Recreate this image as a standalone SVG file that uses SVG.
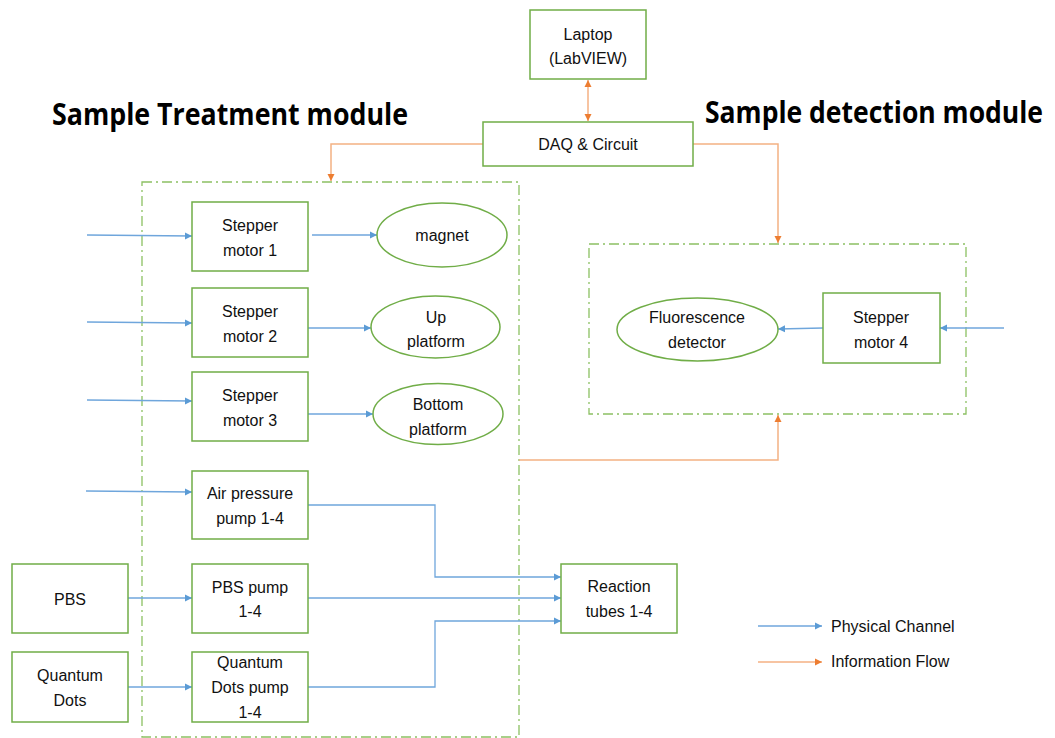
<svg xmlns="http://www.w3.org/2000/svg" width="1055" height="738" viewBox="0 0 1055 738">
<style>
text{font-family:"Liberation Sans",Arial,sans-serif;font-size:16px;fill:#111;text-anchor:middle}
.title{font-family:"Open Sans","Liberation Sans",sans-serif;font-weight:bold;font-size:30px;text-anchor:start;fill:#000}
.leg{text-anchor:start}
.box{fill:#fff;stroke:#70AD47;stroke-width:1.5}
.mod{fill:none;stroke:#8CC063;stroke-width:1.3;stroke-dasharray:10 4 2 4}
.phys{fill:none;stroke:#6FA6DC;stroke-width:1.3}
.info{fill:none;stroke:#F4B183;stroke-width:1.5}
</style>
<defs>
<marker id="ab" markerWidth="8" markerHeight="8" refX="7" refY="4" orient="auto" markerUnits="userSpaceOnUse"><path d="M0,0.5 L7,4 L0,7.5 Z" fill="#5B9BD5"/></marker>
<marker id="ao" markerWidth="8" markerHeight="8" refX="7" refY="4" orient="auto" markerUnits="userSpaceOnUse"><path d="M0,0.5 L7,4 L0,7.5 Z" fill="#ED7D31"/></marker>
<marker id="aos" markerWidth="8" markerHeight="8" refX="0" refY="4" orient="auto" markerUnits="userSpaceOnUse"><path d="M7,0.5 L0,4 L7,7.5 Z" fill="#ED7D31"/></marker>
</defs>
<rect width="1055" height="738" fill="#fff"/>

<g id="titles">
<text class="title" x="52" y="125" textLength="356" lengthAdjust="spacingAndGlyphs">Sample Treatment module</text>
<text class="title" x="705" y="123" textLength="338" lengthAdjust="spacingAndGlyphs">Sample detection module</text>
</g>

<g id="modules">
<rect id="treatment-module" class="mod" x="142" y="182" width="377" height="555"/>
<rect id="detection-module" class="mod" x="589" y="244" width="377" height="170"/>
</g>

<g id="connectors">
<line class="info" x1="588" y1="80" x2="588" y2="121" marker-start="url(#aos)" marker-end="url(#ao)"/>
<polyline class="info" points="483,144 331,144 331,181" marker-end="url(#ao)"/>
<polyline class="info" points="693,144 778,144 778,243" marker-end="url(#ao)"/>
<polyline class="info" points="519,460 778,460 778,415" marker-end="url(#ao)"/>

<line class="phys" x1="87" y1="235" x2="192" y2="236" marker-end="url(#ab)"/>
<line class="phys" x1="312" y1="235" x2="377" y2="235" marker-end="url(#ab)"/>
<line class="phys" x1="87" y1="322" x2="192" y2="323" marker-end="url(#ab)"/>
<line class="phys" x1="308" y1="328" x2="371" y2="328" marker-end="url(#ab)"/>
<line class="phys" x1="87" y1="400" x2="192" y2="401" marker-end="url(#ab)"/>
<line class="phys" x1="308" y1="414" x2="373" y2="414" marker-end="url(#ab)"/>
<line class="phys" x1="86" y1="491" x2="192" y2="492" marker-end="url(#ab)"/>
<polyline class="phys" points="308,505 435,505 435,577 561,577" marker-end="url(#ab)"/>
<line class="phys" x1="128" y1="598" x2="192" y2="598" marker-end="url(#ab)"/>
<line class="phys" x1="308" y1="598" x2="561" y2="598" marker-end="url(#ab)"/>
<line class="phys" x1="124" y1="687" x2="192" y2="687" marker-end="url(#ab)"/>
<polyline class="phys" points="308,687 435,687 435,621 561,621" marker-end="url(#ab)"/>
<line class="phys" x1="823" y1="328" x2="778" y2="329" marker-end="url(#ab)"/>
<line class="phys" x1="1004" y1="328" x2="940" y2="328" marker-end="url(#ab)"/>
</g>

<g id="laptop"><rect class="box" x="530" y="10" width="116" height="69"/><text x="588" y="40">Laptop</text><text x="588" y="64">(LabVIEW)</text></g>
<g id="daq"><rect class="box" x="483" y="122" width="210" height="44"/><text x="588" y="150">DAQ &amp; Circuit</text></g>

<g id="stepper1"><rect class="box" x="192" y="202" width="116" height="69"/><text x="250" y="231">Stepper</text><text x="250" y="256">motor 1</text></g>
<g id="stepper2"><rect class="box" x="192" y="288" width="116" height="69"/><text x="250" y="317">Stepper</text><text x="250" y="342">motor 2</text></g>
<g id="stepper3"><rect class="box" x="192" y="372" width="116" height="69"/><text x="250" y="401">Stepper</text><text x="250" y="426">motor 3</text></g>
<g id="magnet"><ellipse class="box" cx="442" cy="235" rx="65" ry="32"/><text x="442" y="241">magnet</text></g>
<g id="up-platform"><ellipse class="box" cx="435.5" cy="327" rx="64.5" ry="31"/><text x="436" y="323">Up</text><text x="436" y="347">platform</text></g>
<g id="bottom-platform"><ellipse class="box" cx="438" cy="414" rx="65" ry="30.5"/><text x="438" y="410">Bottom</text><text x="438" y="435">platform</text></g>

<g id="air-pump"><rect class="box" x="192" y="471" width="116" height="68"/><text x="250" y="499">Air pressure</text><text x="250" y="524">pump 1-4</text></g>
<g id="pbs"><rect class="box" x="12" y="564" width="116" height="69"/><text x="70" y="605">PBS</text></g>
<g id="pbs-pump"><rect class="box" x="192" y="564" width="116" height="69"/><text x="250" y="593">PBS pump</text><text x="250" y="617">1-4</text></g>
<g id="quantum-dots"><rect class="box" x="12" y="652" width="116" height="70"/><text x="70" y="681">Quantum</text><text x="70" y="706">Dots</text></g>
<g id="qd-pump"><rect class="box" x="192" y="652" width="116" height="70"/><text x="250" y="668">Quantum</text><text x="250" y="693">Dots pump</text><text x="250" y="718">1-4</text></g>
<g id="reaction-tubes"><rect class="box" x="561" y="564" width="116" height="69"/><text x="619" y="592">Reaction</text><text x="619" y="617">tubes 1-4</text></g>

<g id="fluorescence"><ellipse class="box" cx="697.5" cy="329.5" rx="80.5" ry="31.5"/><text x="697" y="323">Fluorescence</text><text x="697" y="348">detector</text></g>
<g id="stepper4"><rect class="box" x="823" y="293" width="117" height="70"/><text x="881" y="323">Stepper</text><text x="881" y="348">motor 4</text></g>

<g id="legend">
<line class="phys" x1="758" y1="626" x2="822" y2="626" marker-end="url(#ab)"/>
<text class="leg" x="831" y="632">Physical Channel</text>
<line class="info" x1="758" y1="662" x2="822" y2="662" marker-end="url(#ao)"/>
<text class="leg" x="831" y="667">Information Flow</text>
</g>
</svg>
